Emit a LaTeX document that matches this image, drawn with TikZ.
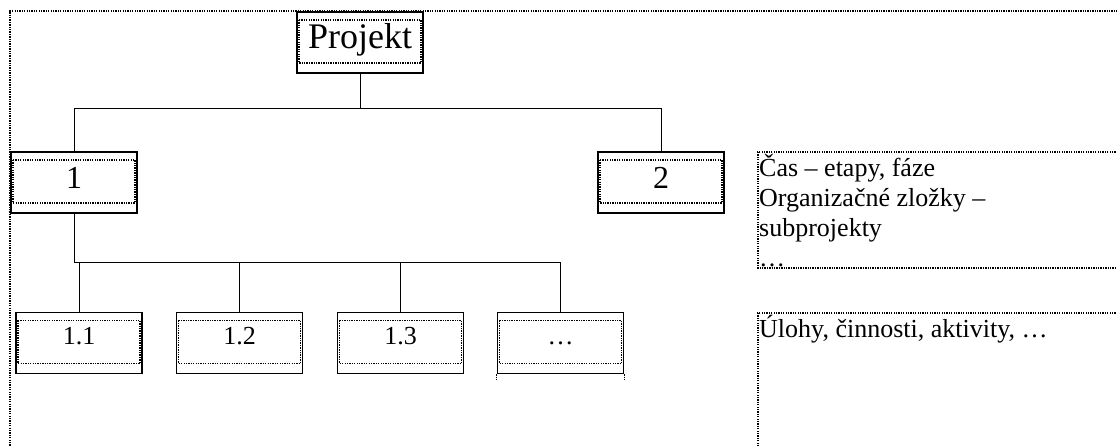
\documentclass[tikz,border=0pt]{standalone}
\usepackage{fontspec}
\setmainfont{Liberation Serif}
\begin{document}
\begin{tikzpicture}[x=1pt,y=-1pt,
  dotline/.style={line width=1.2pt, dash pattern=on 1.3pt off 1.1pt},
  link/.style={line width=1pt},
  wbs/.style={draw, line width=1.6pt, fill=white, minimum width=126pt,
    minimum height=61pt, inner sep=0pt,
    path picture={\draw[dotline]
      ([xshift=2pt,yshift=-8pt]path picture bounding box.north west) rectangle
      ([xshift=-2pt,yshift=10pt]path picture bounding box.south east);}},
  topbox/.style={wbs, font=\fontsize{36}{40}\selectfont, text height=21pt, text depth=8pt},
  midbox/.style={wbs, font=\fontsize{32}{36}\selectfont, text height=21pt, text depth=8pt},
  leafbox/.style={wbs, font=\fontsize{26}{30}\selectfont, text height=12pt, text depth=8pt},
  notetext/.style={anchor=north west, align=left, inner sep=0pt,
    font=\fontsize{26}{30}\selectfont}
]
\useasboundingbox (0,0) rectangle (1117,446);
\begin{scope}
\clip (0,0) rectangle (1117,446);

% page frame
\draw[dotline] (10,460) -- (10,11) -- (1130,11);

% note frames on the right
\draw[dotline] (1130,152) -- (758,152) -- (758,268) -- (1130,268);
\draw[dotline] (1130,313) -- (758,313) -- (758,460);

% hierarchy
\node[topbox] (proj) at (360,42.5) {Projekt};
\node[midbox] (n1) at (74,182.5) {1};
\node[midbox] (n2) at (661,182.5) {2};
\node[leafbox] (n11) at (79,343) {1.1};
\node[leafbox] (n12) at (239.5,343) {1.2};
\node[leafbox] (n13) at (400.5,343) {1.3};
\node[leafbox] (n14) at (560.5,343) {…};

% short dotted ticks below the last leaf
\draw[dotline] (n14.south west) -- ++(0,6);
\draw[dotline] (n14.south east) -- ++(0,6);

\draw[link] (proj.south) -- ++(0,35) -| (n1.north);
\draw[link] (proj.south) -- ++(0,35) -| (n2.north);
\draw[link] (n1.south) -- ++(0,49) -| (n11.north);
\draw[link] (n1.south) -- ++(0,49) -| (n12.north);
\draw[link] (n1.south) -- ++(0,49) -| (n13.north);
\draw[link] (n1.south) -- ++(0,49) -| (n14.north);

% notes
\node[notetext] (note1) at (759,154) {Čas – etapy, fáze\\Organizačné zložky –\\subprojekty\\…};
\node[notetext] (note2) at (759,315) {Úlohy, činnosti, aktivity, …};
\end{scope}
\end{tikzpicture}
\end{document}
